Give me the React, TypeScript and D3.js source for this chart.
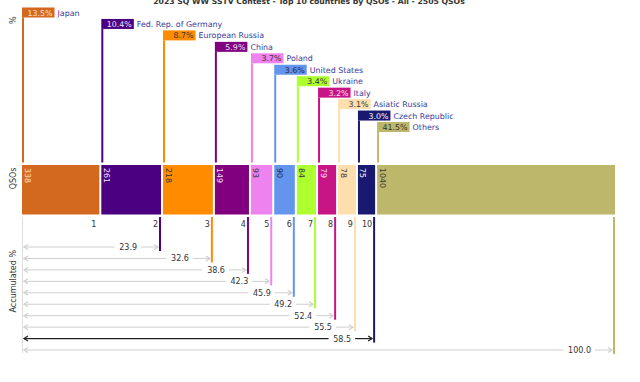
import React from "react";
import * as d3 from "d3";

const countries = ["Japan", "Fed. Rep. of Germany", "European Russia", "China", "Poland", "United States", "Ukraine", "Italy", "Asiatic Russia", "Czech Republic", "Others"];
const qsos = [338, 261, 218, 149, 93, 90, 84, 79, 78, 75, 1040];
const percents = ["13.5%", "10.4%", "8.7%", "5.9%", "3.7%", "3.6%", "3.4%", "3.2%", "3.1%", "3.0%", "41.5%"];
const accumulated = ["", "23.9", "32.6", "38.6", "42.3", "45.9", "49.2", "52.4", "55.5", "58.5", "100.0"];
const rankLabels = ["1", "2", "3", "4", "5", "6", "7", "8", "9", "10", ""];
const colors = ["#D2691E", "#4B0082", "#FF8C00", "#800080", "#EE82EE", "#6495ED", "#ADFF2F", "#C71585", "#FFDEAD", "#191970", "#BDB76B"];
const labelColors = ["#FFE0CC", "#F0E8FF", "#333333", "#F4E0F4", "#333333", "#222244", "#333333", "#FFE0F0", "#333333", "#FFFFFF", "#333333"];
const title = "2023 SQ WW SSTV Contest - Top 10 countries by QSOs - All - 2505 QSOs";

const FONT = "DejaVu Sans, Verdana, sans-serif";
const X0 = 22;
const X1 = 615;
const GAP = 2;
const BAR_TOP = 165;
const BAR_BOTTOM = 214.5;

export default function App() {
  const total = d3.sum(qsos);
  const w = d3.scaleLinear().domain([0, total]).range([0, X1 - X0 - GAP * (qsos.length - 1)]);
  const cum = d3.cumsum(qsos);
  const lefts = qsos.map((q, i) => X0 + w(cum[i] - q) + i * GAP);
  const rights = qsos.map((q, i) => lefts[i] + w(q));
  const rowY = d3.scaleLinear().domain([0, 1]).range([12.5, 23.95]);
  const accY = d3.scaleLinear().domain([1, 2]).range([247, 258.45]);

  return (
    <svg width={640} height={382} style={{ position: "absolute", left: 0, top: 0, background: "#fff" }} fontFamily={FONT}>
      <text x={309} y={3.5} textAnchor="middle" fontSize={7.7} fontWeight="bold" fill="#333">{title}</text>

      {/* axis labels */}
      <text transform={`translate(15.5,16.5) rotate(-90)`} textAnchor="end" fontSize={8} fill="#333">%</text>
      <text transform={`translate(15.5,167.5) rotate(-90)`} textAnchor="end" fontSize={8} fill="#333">QSOs</text>
      <text transform={`translate(15.5,250) rotate(-90)`} textAnchor="end" fontSize={8} fill="#333">Accumulated %</text>

      {/* top part: percent labels */}
      {countries.map((c, i) => {
        const x = lefts[i];
        const y = rowY(i);
        return (
          <g key={"t" + i}>
            <line x1={x + 1} x2={x + 1} y1={y + 5} y2={162.5} stroke={colors[i]} strokeWidth={2} />
            <rect x={x} y={y - 5} width={32.5} height={10} fill={colors[i]} />
            <text x={x + 30.5} y={y + 3} textAnchor="end" fontSize={7.9} fill={labelColors[i]}>{percents[i]}</text>
            <text x={x + 35.5} y={y + 3} fontSize={7.9} fill="#3A3A9A">{c}</text>
          </g>
        );
      })}

      {/* bars */}
      {qsos.map((q, i) => (
        <g key={"b" + i}>
          <rect x={lefts[i]} y={BAR_TOP} width={rights[i] - lefts[i]} height={BAR_BOTTOM - BAR_TOP} fill={colors[i]} />
          <text transform={`translate(${lefts[i] + 2.5},${BAR_TOP + 3}) rotate(90)`} fontSize={7.9} fill={labelColors[i]}>{q}</text>
        </g>
      ))}

      {/* rank labels */}
      {rankLabels.map((r, i) => r ? (
        <text key={"r" + i} x={rights[i] - 3} y={227} textAnchor="end" fontSize={8} fill="#333">{r}</text>
      ) : null)}

      {/* left axis line */}
      <line x1={22.5} x2={22.5} y1={217} y2={353} stroke="#ddd" strokeWidth={1} />

      {/* accumulated */}
      {accumulated.map((a, i) => {
        if (!a) return null;
        const y = accY(i);
        const xr = rights[i] - 1;
        const dark = i === 9;
        const col = dark ? "#222" : "#cfcfcf";
        const tEnd = xr - 23;
        const tw = a.length * 5.0 - (a.includes(".") ? 2.5 : 0);
        const tStart = tEnd - tw;
        return (
          <g key={"a" + i}>
            <line x1={xr} x2={xr} y1={217} y2={y + 4} stroke={colors[i]} strokeWidth={2} />
            <line x1={24} x2={tStart - 5} y1={y} y2={y} stroke={col} strokeWidth={dark ? 1.2 : 1} />
            <line x1={tEnd + 4} x2={xr - 2} y1={y} y2={y} stroke={col} strokeWidth={dark ? 1.2 : 1} />
            <path d={`M${28},${y - 2.5} L${24},${y} L${28},${y + 2.5}`} fill="none" stroke={col} strokeWidth={1.2} />
            <path d={`M${xr - 6},${y - 2.5} L${xr - 2},${y} L${xr - 6},${y + 2.5}`} fill="none" stroke={col} strokeWidth={1.2} />
            <text x={tEnd} y={y + 3} textAnchor="end" fontSize={8} fill="#333">{a}</text>
          </g>
        );
      })}
    </svg>
  );
}
